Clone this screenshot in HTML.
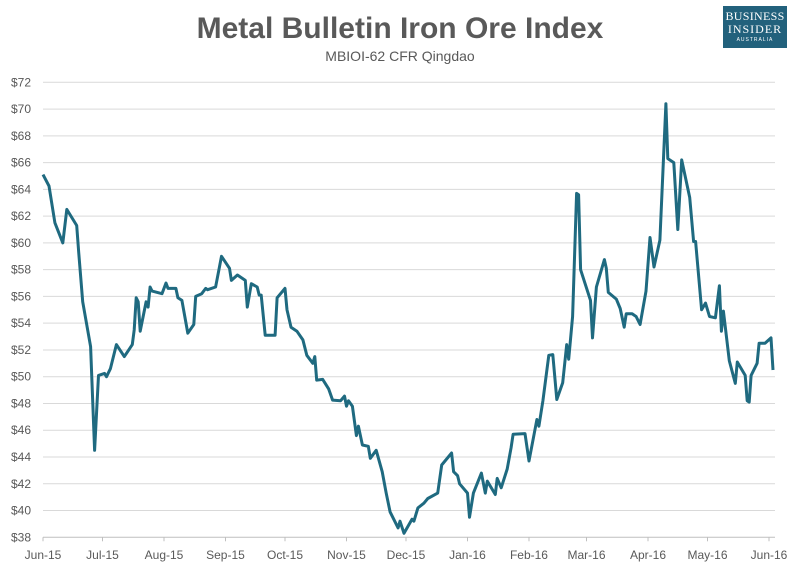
<!DOCTYPE html>
<html><head><meta charset="utf-8"><style>
body{margin:0;background:#fff;width:800px;height:569px;overflow:hidden;font-family:"Liberation Sans",sans-serif}
#wrap{position:relative;width:800px;height:569px}
.t{position:absolute;left:0;width:800px;text-align:center}
</style></head><body>
<div id="wrap">
<div class="t" style="top:12px;font-size:30px;font-weight:bold;color:#595959">Metal Bulletin Iron Ore Index</div>
<div class="t" style="top:48px;font-size:14px;color:#595959">MBIOI-62 CFR Qingdao</div>
<div style="position:absolute;left:723px;top:6px;width:64px;height:42px;background:#22617c;color:#fff;font-family:'Liberation Serif',serif;text-align:center;line-height:1">
<div style="font-size:12px;margin-top:4px;letter-spacing:0.3px">BUSINESS</div>
<div style="font-size:12px;margin-top:1px;letter-spacing:1px">INSIDER</div>
<div style="font-size:5px;margin-top:3px;letter-spacing:1px;font-family:'Liberation Sans',sans-serif">AUSTRALIA</div>
</div>
<svg id="chart" width="800" height="569" style="position:absolute;left:0;top:0"></svg>
</div>
<script>
const yTicks=[38,40,42,44,46,48,50,52,54,56,58,60,62,64,66,68,70,72];
const xLabels=["Jun-15","Jul-15","Aug-15","Sep-15","Oct-15","Nov-15","Dec-15","Jan-16","Feb-16","Mar-16","Apr-16","May-16","Jun-16"];
const xLabelDays=[0,30,61,92,122,153,183,214,245,274,305,335,366];
const days=[0,3,6,10,12,17,18,20,24,26,28,31,32,34,37,41,45,46,47,48,49,52,53,54,55,60,62,63,67,68,70,73,76,77,80,82,83,87,90,94,95,98,102,103,105,108,109,110,112,117,118,122,123,125,128,131,133,136,137,138,141,144,146,150,152,153,154,156,158,159,161,164,165,168,171,173,175,179,180,182,186,187,189,192,194,199,201,206,207,209,210,214,215,217,221,223,224,228,229,231,234,236,237,243,245,249,250,252,255,257,259,262,264,265,267,269,270,271,276,277,279,283,284,285,289,291,293,294,297,299,301,304,306,308,311,314,315,318,320,322,326,328,329,332,334,336,339,341,342,343,346,349,350,354,355,356,357,360,361,364,367,368];
const prices=[65.1,64.25,61.5,60.0,62.5,61.3,59.3,55.6,52.25,44.5,50.1,50.25,50.0,50.6,52.4,51.5,52.4,53.5,55.9,55.6,53.4,55.6,55.2,56.7,56.4,56.2,57.0,56.6,56.6,55.9,55.7,53.25,53.9,56.0,56.2,56.6,56.5,56.7,59.0,58.1,57.2,57.6,57.2,55.2,56.95,56.7,56.1,56.1,53.1,53.1,55.9,56.6,55.0,53.7,53.4,52.75,51.6,51.0,51.5,49.75,49.8,49.1,48.25,48.2,48.55,47.8,48.2,47.8,45.6,46.3,44.9,44.8,43.9,44.5,42.9,41.3,39.9,38.7,39.2,38.3,39.35,39.2,40.2,40.55,40.9,41.3,43.4,44.3,42.9,42.6,42.0,41.3,39.5,41.3,42.8,41.3,42.2,41.2,42.4,41.7,43.1,44.7,45.7,45.75,43.7,46.8,46.3,48.2,51.6,51.65,48.3,49.55,52.4,51.3,54.5,63.7,63.6,58.0,55.7,52.9,56.7,58.75,58.1,56.3,55.8,55.1,53.7,54.7,54.7,54.5,53.9,56.4,60.4,58.2,60.2,70.4,66.3,66.0,61.0,66.2,63.4,60.1,60.1,55.0,55.5,54.5,54.4,56.8,53.4,54.9,51.2,49.5,51.1,50.1,48.2,48.1,50.1,51.0,52.5,52.5,52.9,50.5];
const NS="http://www.w3.org/2000/svg",svg=document.getElementById('chart');
const X0=43,X1=769,Y0=537.3,Y1=82.3;
const xs=d=>X0+(X1-X0)*d/366;
const ys=v=>Y0-(Y0-Y1)*(v-38)/34;
function mk(tag,attrs){const e=document.createElementNS(NS,tag);for(const k in attrs)e.setAttribute(k,attrs[k]);svg.appendChild(e);return e;}
yTicks.forEach(v=>{
  if(v>38){const g=mk('line',{x1:X0,x2:775,y1:ys(v),y2:ys(v),stroke:'#d9d9d9','stroke-width':1});
  
  }
  const t=mk('text',{x:31,y:ys(v)+4,'text-anchor':'end','font-size':12,fill:'#595959','font-family':'Liberation Sans, sans-serif'});
  t.textContent='$'+v;
  
  
});
const ax=mk('line',{x1:X0,x2:775,y1:Y0,y2:Y0,stroke:'#bfbfbf','stroke-width':1});


xLabels.forEach((l,i)=>{
  const x=xs(xLabelDays[i]);
  const tk=mk('line',{x1:x,x2:x,y1:Y0,y2:Y0+4,stroke:'#bfbfbf'});
  
  
  const t=mk('text',{x:x,y:559,'text-anchor':'middle','font-size':12,fill:'#595959','font-family':'Liberation Sans, sans-serif'});
  t.textContent=l;
  
  
});
const p=mk('polyline',{points:days.map((d,i)=>xs(d).toFixed(1)+','+ys(prices[i]).toFixed(1)).join(' '),fill:'none',stroke:'#1f6a80','stroke-width':3,'stroke-linejoin':'round'});


</script>
</body></html>
